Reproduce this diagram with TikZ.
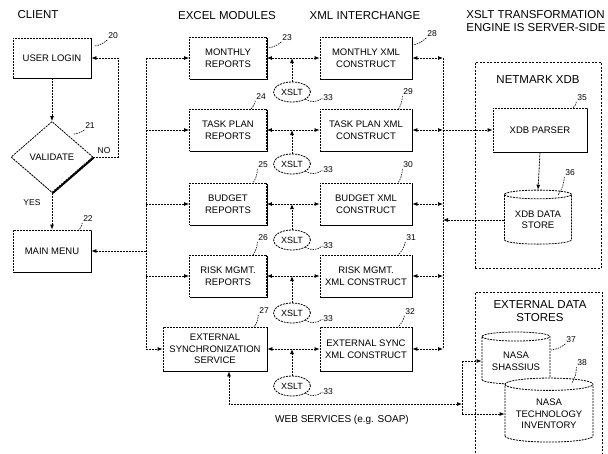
\documentclass[tikz,border=0pt]{standalone}
\usepackage{fontspec}
\setmainfont{Liberation Sans}
\usetikzlibrary{arrows,arrows.meta,shapes.geometric,shadows}

\tikzset{
  dotline/.style={dash pattern=on 2pt off 1pt},
  blockbox/.style={draw,dotline,fill=white,align=center,inner sep=1pt,
    font=\fontsize{9.5}{11.5}\selectfont,minimum height=42pt,
    drop shadow={shadow xshift=1.4pt,shadow yshift=-1.4pt,fill=black,opacity=1}},
  excelbox/.style={blockbox,minimum width=77pt},
  xmlbox/.style={blockbox,minimum width=92pt},
  decision/.style={draw,dotline,diamond,fill=white,inner sep=0pt,
    font=\fontsize{9.5}{11.5}\selectfont,
    drop shadow={shadow xshift=1.4pt,shadow yshift=-1.4pt,fill=black,opacity=1}},
  xsltnode/.style={draw,dotline,ellipse,fill=white,inner sep=0pt,
    minimum width=37pt,minimum height=20pt,font=\fontsize{9}{10}\selectfont},
  datastore/.style={draw,dotline,cylinder,shape border rotate=90,aspect=0.18,
    fill=white,align=center,inner sep=1pt,font=\fontsize{9.5}{11.5}\selectfont},
  heading/.style={font=\fontsize{11.5}{13}\selectfont,align=center,inner sep=0pt},
  reflab/.style={font=\fontsize{8.5}{9}\selectfont,inner sep=0.5pt},
  leader/.style={dash pattern=on 1.5pt off 1pt,line width=0.6pt},
  flow/.style={dotline,-{Latex[length=5pt,width=4pt]}},
  biflow/.style={dotline,{Latex[length=5pt,width=4pt]}-{Latex[length=5pt,width=4pt]}},
  group/.style={draw,dash pattern=on 2pt off 1.5pt}
}

\begin{document}
\begin{tikzpicture}[x=1pt,y=-1pt,line width=0.8pt]
  \useasboundingbox (0,0) rectangle (608,453);

  % Column headers
  \node[heading] (hclient) at (38,15) {CLIENT};
  \node[heading] (hexcel) at (227,16) {EXCEL MODULES};
  \node[heading] (hxml) at (365,16) {XML INTERCHANGE};
  \node[heading,anchor=north west,align=left] (hxslt) at (466,10)
    {XSLT TRANSFORMATION\\ENGINE IS SERVER-SIDE};

  % Client side
  \node[blockbox,minimum width=78pt,minimum height=40pt] (login) at (52,58) {USER LOGIN};
  \node[decision,minimum width=82pt,minimum height=71pt] (validate) at (52,157) {VALIDATE};
  \node[blockbox,minimum width=78pt] (mainmenu) at (52,251) {MAIN MENU};

  % Excel modules and their XML constructs
  \foreach \name/\y/\etxt/\xtxt in {
      monthly/58/{MONTHLY\\REPORTS}/{MONTHLY XML\\CONSTRUCT},
      task/130/{TASK PLAN\\REPORTS}/{TASK PLAN XML\\CONSTRUCT},
      budget/204/{BUDGET\\REPORTS}/{BUDGET XML\\CONSTRUCT},
      risk/276/{RISK MGMT.\\REPORTS}/{RISK MGMT.\\XML CONSTRUCT}} {
    \node[excelbox] (\name) at (228,\y) {\etxt};
    \node[xmlbox] (x\name) at (366,\y) {\xtxt};
  }
  \node[excelbox,minimum width=104pt,minimum height=44pt] (extsync) at (215,349)
    {EXTERNAL\\SYNCHRONIZATION\\SERVICE};
  \node[xmlbox,minimum height=44pt] (xextsync) at (366,349) {EXTERNAL SYNC\\XML CONSTRUCT};

  % XSLT transforms
  \foreach \k/\y in {1/92,2/164,3/240,4/313,5/386} {
    \node[xsltnode] (xslt\k) at (292,\y) {XSLT};
    \node[reflab] (r33\k) at (328,\y+6) {33};
    \draw[leader] (xslt\k.south east) to[bend right=35] (r33\k.west);
  }

  % Server side
  \node[group,minimum width=126pt,minimum height=206pt] (netmark) at (538,165) {};
  \node[heading] (tnetmark) at (538,80) {NETMARK XDB};
  \node[blockbox,minimum width=94pt,minimum height=44pt] (parser) at (540,130) {XDB PARSER};
  \node[datastore,minimum width=67pt,minimum height=54pt] (store) at (538,220) {XDB DATA\\STORE};

  % External data stores
  \node[group,minimum width=127pt,minimum height=172pt] (external) at (538.5,378) {};
  \node[heading] (texternal) at (540,311) {EXTERNAL DATA\\STORES};
  \node[datastore,minimum width=68pt,minimum height=52pt] (nasa1) at (516,361) {NASA\\SHASSIUS};
  \node[datastore,minimum width=88pt,minimum height=64pt] (nasa2) at (549,414)
    {NASA\\TECHNOLOGY\\INVENTORY};

  % Busses
  \coordinate (lbtop) at (146,58);
  \coordinate (lbbot) at (146,349);
  \coordinate (rbtop) at (443,58);
  \coordinate (rbbot) at (443,349);
  \coordinate (wsjoin) at (462,404);
  \draw[dotline] (lbtop) -- (lbbot);
  \draw[dotline] (rbtop) -- (rbbot);

  % Client flow
  \draw[flow] (login.south) -- (validate.north);
  \draw[flow] (validate.east) -- ++(25,0) |- (login.east);
  \node[reflab] (lno) at (104,151) {NO};
  \draw[flow] (validate.south) -- (mainmenu.north);
  \node[reflab] (lyes) at (32,203) {YES};
  \draw[flow] (lbtop |- mainmenu.east) -- (mainmenu.east);

  % Rows
  \foreach \name/\k in {monthly/1,task/2,budget/3,risk/4,extsync/5} {
    \draw[flow] (lbtop |- \name.west) -- (\name.west);
    \draw[biflow] (\name.east) -- (x\name.west);
    \draw[flow] (xslt\k.north) -- (xslt\k.north |- \name.east);
    \draw[biflow] (x\name.east) -- (rbtop |- x\name.east);
  }

  % Server connections
  \draw[flow] (rbtop |- parser.west) -- (parser.west);
  \draw[flow] (parser.south) -- (store.north);
  \draw[flow] (store.west) -- (rbtop |- store.west);

  % Web services
  \draw[biflow] ([xshift=14pt]extsync.south) |- (wsjoin);
  \draw[dotline] (wsjoin |- nasa1.west) -- (wsjoin |- nasa2.west);
  \draw[flow] (wsjoin |- nasa1.west) -- (nasa1.west);
  \draw[flow] (wsjoin |- nasa2.west) -- (nasa2.west);
  \node[heading,font=\fontsize{10}{12}\selectfont] (lws) at (342,420) {WEB SERVICES (e.g. SOAP)};

  % Reference numerals
  \foreach \n/\x/\y/\ex/\ey in {20/113/36/95/46, 21/90/126/74/134, 22/88/219/78/231,
      23/287/38/268/48, 24/261/97/250/110, 25/263/165/253/183, 26/263/238/253/255,
      27/264/311/254/327, 28/432/34/413/45, 29/408/92/398/110, 30/408/165/398/183,
      31/411/238/398/255, 32/410/312/398/327, 35/582/98/573/108, 36/570/173/558/195,
      37/571/340/551/350, 38/582/363/572/383} {
    \node[reflab] (r\n) at (\x,\y) {\n};
    \coordinate (e\n) at (\ex,\ey);
    \draw[leader] (r\n.south west) to[bend left=15] (e\n);
  }
\end{tikzpicture}
\end{document}
